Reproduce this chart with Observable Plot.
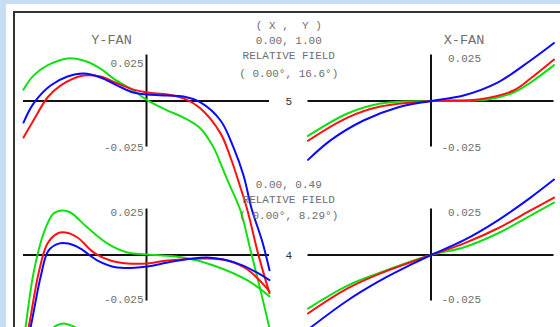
<!DOCTYPE html>
<html>
<head>
<meta charset="utf-8">
<script src="https://cdn.jsdelivr.net/npm/d3@7"></script>
<script src="https://cdn.jsdelivr.net/npm/@observablehq/plot@0.6"></script>
<style>
  html, body { margin: 0; padding: 0; width: 560px; height: 327px; overflow: hidden; background: #c6ddf3; }
  #sheet { position: absolute; left: 6px; top: 4px; width: 600px; height: 400px; background: #fff; }
  #frame { position: absolute; left: 13px; top: 11px; width: 600px; height: 400px; border-left: 2px solid #333; border-top: 2px solid #333; }
  #chart { position: absolute; left: 0; top: 0; }
</style>
</head>
<body>
<div id="sheet"></div>
<div id="frame"></div>
<div id="chart"></div>
<script>
// ---- data (pupil coordinate, ray aberration in mm) ----
const fans = ["Y-FAN", "X-FAN"];
const fields = [5, 4];
const waves = ["0.486", "0.588", "0.656"];   // blue, green, red
const fieldHeader = "( X ,  Y )";
const fieldCoords = ["0.00, 1.00", "0.00, 0.49"];
const fieldAngles = ["( 0.00\u00B0, 16.6\u00B0)", "( 0.00\u00B0, 8.29\u00B0)"];
const fieldTitle = "RELATIVE FIELD";
const tickValues = [0.025, -0.025];
const tickLabels = ["0.025", "-0.025"];

const yFan5Green = [[-1.0,0.0062],[-0.919,0.0138],[-0.805,0.0193],[-0.642,0.0231],[-0.512,0.0220],[-0.374,0.0176],[-0.268,0.0122],[-0.106,0.0057],[0.008,0.0003],[0.171,-0.0052],[0.301,-0.0090],[0.439,-0.0149],[0.545,-0.0252],[0.602,-0.0339],[0.667,-0.0443],[0.764,-0.0595],[0.846,-0.0812],[0.927,-0.1029],[1.0,-0.1235]];
const yFan5Red = [[-1.0,-0.0198],[-0.919,-0.0106],[-0.805,0.0019],[-0.699,0.0084],[-0.512,0.0138],[-0.374,0.0133],[-0.236,0.0095],[-0.106,0.0062],[0.008,0.0046],[0.171,0.0035],[0.301,0.0014],[0.439,-0.0041],[0.602,-0.0176],[0.683,-0.0307],[0.764,-0.0470],[0.821,-0.0595],[0.911,-0.0839],[1.0,-0.1045]];
const yFan5Blue = [[-1.0,-0.0117],[-0.919,-0.0014],[-0.780,0.0084],[-0.642,0.0133],[-0.512,0.0149],[-0.374,0.0128],[-0.236,0.0084],[-0.106,0.0046],[0.008,0.0035],[0.171,0.0030],[0.301,0.0024],[0.439,-0.0008],[0.602,-0.0106],[0.707,-0.0252],[0.789,-0.0405],[0.854,-0.0584],[0.943,-0.0768],[1.0,-0.0920]];

const yFan4Green = [[-1.0,-0.0460],[-0.984,-0.0394],[-0.919,-0.0100],[-0.837,0.0117],[-0.756,0.0225],[-0.683,0.0242],[-0.618,0.0231],[-0.480,0.0149],[-0.317,0.0062],[-0.154,0.0014],[0.008,0.0003],[0.301,-0.0014],[0.545,-0.0057],[0.821,-0.0138],[1.0,-0.0225]];
const yFan4Red = [[-1.0,-0.0500],[-0.959,-0.0394],[-0.878,-0.0100],[-0.805,0.0062],[-0.724,0.0117],[-0.659,0.0122],[-0.561,0.0095],[-0.431,0.0014],[-0.293,-0.0030],[-0.154,-0.0046],[0.008,-0.0046],[0.171,-0.0030],[0.496,-0.0019],[0.659,-0.0030],[0.821,-0.0079],[1.0,-0.0198]];
const yFan4Blue = [[-1.0,-0.0540],[-0.943,-0.0394],[-0.862,-0.0122],[-0.797,0.0024],[-0.715,0.0062],[-0.634,0.0062],[-0.537,0.0035],[-0.398,-0.0030],[-0.236,-0.0068],[0.008,-0.0062],[0.171,-0.0041],[0.496,-0.0014],[0.764,-0.0052],[1.0,-0.0136]];

const yFan3Green = [[-0.80,0.0405],[-0.756,0.0443],[-0.70,0.0462],[-0.66,0.0464],[-0.61,0.0453],[-0.577,0.0443],[-0.53,0.0405]];

const xFan5Green = [[-1.0,-0.0190],[-0.679,-0.0068],[-0.411,-0.0014],[0,0],[0.459,0.0008],[0.671,0.0046],[0.809,0.0100],[1.0,0.0195]];
const xFan5Red = [[-1.0,-0.0216],[-0.679,-0.0090],[-0.411,-0.0030],[0,0],[0.402,0.0010],[0.671,0.0057],[0.809,0.0122],[1.0,0.0225]];
const xFan5Blue = [[-1.0,-0.0320],[-0.817,-0.0214],[-0.549,-0.0106],[-0.272,-0.0035],[0,0],[0.264,0.0030],[0.541,0.0100],[0.809,0.0220],[1.0,0.0315]];

const xFan4Green = [[-1.0,-0.0291],[-0.679,-0.0166],[-0.411,-0.0095],[0,0],[0.264,0.0041],[0.541,0.0117],[0.809,0.0214],[1.0,0.0285]];
const xFan4Red = [[-1.0,-0.0318],[-0.679,-0.0182],[-0.411,-0.0100],[0,0],[0.264,0.0062],[0.541,0.0144],[0.809,0.0242],[1.0,0.0312]];
const xFan4Blue = [[-1.0,-0.0405],[-0.679,-0.0247],[-0.411,-0.0138],[-0.142,-0.0046],[0,0],[0.264,0.0079],[0.541,0.0187],[0.809,0.0312],[1.0,0.0410]];

const series = [
  {fan: "Y-FAN", field: 5, wave: "0.588", pts: yFan5Green},
  {fan: "Y-FAN", field: 5, wave: "0.656", pts: yFan5Red},
  {fan: "Y-FAN", field: 5, wave: "0.486", pts: yFan5Blue},
  {fan: "Y-FAN", field: 4, wave: "0.588", pts: yFan4Green},
  {fan: "Y-FAN", field: 4, wave: "0.656", pts: yFan4Red},
  {fan: "Y-FAN", field: 4, wave: "0.486", pts: yFan4Blue},
  {fan: "Y-FAN", field: 3, wave: "0.588", pts: yFan3Green},
  {fan: "X-FAN", field: 5, wave: "0.588", pts: xFan5Green},
  {fan: "X-FAN", field: 5, wave: "0.656", pts: xFan5Red},
  {fan: "X-FAN", field: 5, wave: "0.486", pts: xFan5Blue},
  {fan: "X-FAN", field: 4, wave: "0.588", pts: xFan4Green},
  {fan: "X-FAN", field: 4, wave: "0.656", pts: xFan4Red},
  {fan: "X-FAN", field: 4, wave: "0.486", pts: xFan4Blue}
];

// ---- layout (panel grid in scale units) ----
const XOFF = 2.313;        // horizontal spacing between fan panels (pupil units)
const ROW = 0.0837;        // vertical spacing between field rows (mm)
const PXX = 2 / 246;       // one pixel in x units
const PXY = 0.05 / 92;     // one pixel in y units
const FONT = "Liberation Mono, DejaVu Sans Mono, monospace";
const TXT = "#6e6e6e";
const off = fan => fan === "X-FAN" ? XOFF : 0;
const rowY = field => (field - 5) * ROW;

const table = series.flatMap(s => s.pts.map(([p, ey]) => ({key: s.fan + s.field + s.wave, fan: s.fan, field: s.field, wave: s.wave, p, ey})));
const panels = fields.flatMap(field => fans.map(fan => ({fan, field})));
const ticks = panels.flatMap(pn => tickValues.map((v, i) => ({...pn, v, label: tickLabels[i]})));
// pixel nudges of the tick labels (down = positive)
const tickNudge = d => d.v > 0 ? (d.fan === "Y-FAN" && d.field === 5 ? 8 : 3) : (d.field === 4 ? -1.5 : 0);
const info = [
  {field: 5, text: fieldHeader, dy: -75.5},
  {field: 5, text: fieldCoords[0], dy: -60.5},
  {field: 5, text: fieldTitle, dy: -45.5},
  {field: 5, text: fieldAngles[0], dy: -27.5},
  {field: 4, text: fieldCoords[1], dy: -71},
  {field: 4, text: fieldTitle, dy: -55.5},
  {field: 4, text: fieldAngles[1], dy: -39.5}
];

const chart = Plot.plot({
  width: 560,
  height: 327,
  margin: 0,
  x: {domain: [-1, 1], range: [23, 269], axis: null},
  y: {domain: [-0.025, 0.025], range: [146.5, 54.5], axis: null},
  color: {type: "ordinal", domain: waves, range: ["#0a0aff", "#10e010", "#ff1010"]},
  style: {background: "transparent"},
  marks: [
    Plot.ruleY(panels, {y: d => rowY(d.field), x1: d => off(d.fan) - 1, x2: d => off(d.fan) + 1, stroke: "#111", strokeWidth: 2}),
    Plot.ruleX(panels, {x: d => off(d.fan), y1: d => rowY(d.field) - 0.025, y2: d => rowY(d.field) + 0.025, stroke: "#111", strokeWidth: 2}),
    Plot.line(table, {x: d => d.p + off(d.fan), y: d => d.ey + rowY(d.field), z: "key", stroke: "wave", strokeWidth: 2, curve: "catmull-rom"}),
    // tick labels
    Plot.text(ticks, {
      x: d => off(d.fan) + (d.fan === "X-FAN" ? 50 : -3) * PXX,
      y: d => rowY(d.field) + d.v - tickNudge(d) * PXY,
      text: "label", textAnchor: "end",
      fontFamily: FONT, fontSize: 11, fill: TXT
    }),
    // fan titles
    Plot.text(fans, {
      x: d => off(d) + (d === "X-FAN" ? 33 : -35) * PXX, y: 0.025 + 15 * PXY, text: d => d,
      fontFamily: FONT, fontSize: 13.5, fill: TXT
    }),
    // field numbers
    Plot.text(fields, {x: XOFF / 2, y: d => rowY(d), text: d => String(d), fontFamily: FONT, fontSize: 11, fill: "#333"}),
    // field info
    Plot.text(info, {x: XOFF / 2, y: d => rowY(d.field) - d.dy * PXY, text: "text", fontFamily: FONT, fontSize: 11, fill: TXT})
  ]
});
document.getElementById("chart").append(chart);
</script>
</body>
</html>
